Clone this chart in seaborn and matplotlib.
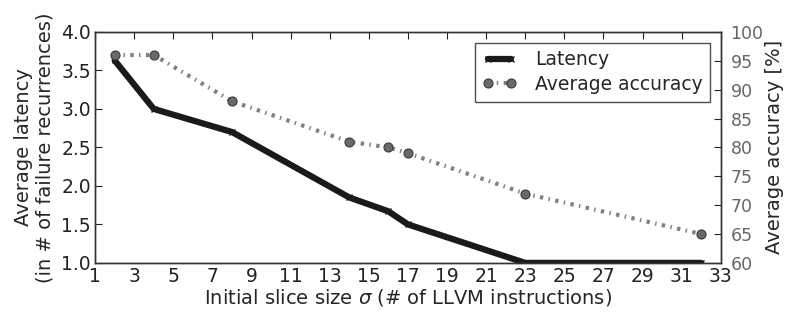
import numpy as np
import pandas as pd
import matplotlib
matplotlib.use("Agg")
import matplotlib.pyplot as plt
import seaborn as sns

slice_size = [2, 4, 8, 14, 16, 17, 23, 32]
latency = [3.63, 3.0, 2.7, 1.85, 1.67, 1.5, 1.0, 1.0]
accuracy = [96, 96, 88, 81, 80, 79, 72, 65]

df = pd.DataFrame({"size": slice_size, "latency": latency, "accuracy": accuracy})

sns.set_style("white")
plt.rcParams["font.family"] = ["DejaVu Sans"]
plt.rcParams["mathtext.fontset"] = "dejavusans"

fig, ax = plt.subplots(figsize=(7.86, 3.13), dpi=100)
ax2 = ax.twinx()

sns.lineplot(data=df, x="size", y="latency", ax=ax, color="#1a1a1a", lw=4.5,
             marker="x", markersize=5, mew=1, markeredgecolor="#1a1a1a",
             label="Latency", legend=False)
sns.lineplot(data=df, x="size", y="accuracy", ax=ax2, color="#808080", lw=3,
             linestyle=(0, (0.8, 1.3, 0.35, 1.3)), marker="o", markersize=6.5,
             markerfacecolor="#6a6a6a", markeredgecolor="#3a3a3a", mew=0.8,
             label="Average accuracy", legend=False)

ax.set_xlim(1, 33)
ax.set_ylim(1.0, 4.0)
ax2.set_ylim(60, 100)
ax.set_xticks(np.arange(1, 34, 2))
ax.set_yticks(np.arange(1.0, 4.01, 0.5))
ax2.set_yticks(np.arange(60, 101, 5))
ax.set_yticklabels([f"{v:.1f}" for v in np.arange(1.0, 4.01, 0.5)])

ax.set_xlabel(r"Initial slice size $\sigma$ (# of LLVM instructions)", fontsize=14, labelpad=1)
ax.set_ylabel("Average latency\n(in # of failure recurrences)", fontsize=14, labelpad=5,
              linespacing=1.15)
ax2.set_ylabel("Average accuracy [%]", fontsize=14, labelpad=1)

for a in (ax, ax2):
    for s in a.spines.values():
        s.set_color("#333333")
        s.set_linewidth(1.0)
ax.tick_params(axis="both", direction="in", length=5, labelsize=13.5, top=True, pad=3, colors="#222222")
ax.tick_params(axis="x", pad=3)
ax2.tick_params(axis="y", direction="in", length=5, labelsize=12.5, labelcolor="#666666", pad=7)

h1, l1 = ax.get_legend_handles_labels()
h2, l2 = ax2.get_legend_handles_labels()
leg = ax2.legend(h1 + h2, l1 + l2, loc="upper right", fontsize=13.5, frameon=True,
                 fancybox=False, edgecolor="#222222", borderaxespad=0.4,
                 handlelength=1.8, handletextpad=1.0, borderpad=0.4,
                 labelspacing=0.3, numpoints=2, bbox_to_anchor=(0.995, 0.985))
leg.get_frame().set_linewidth(1.0)

plt.subplots_adjust(left=0.121, right=0.917, top=0.898, bottom=0.16)
plt.savefig("out.png", dpi=100)
